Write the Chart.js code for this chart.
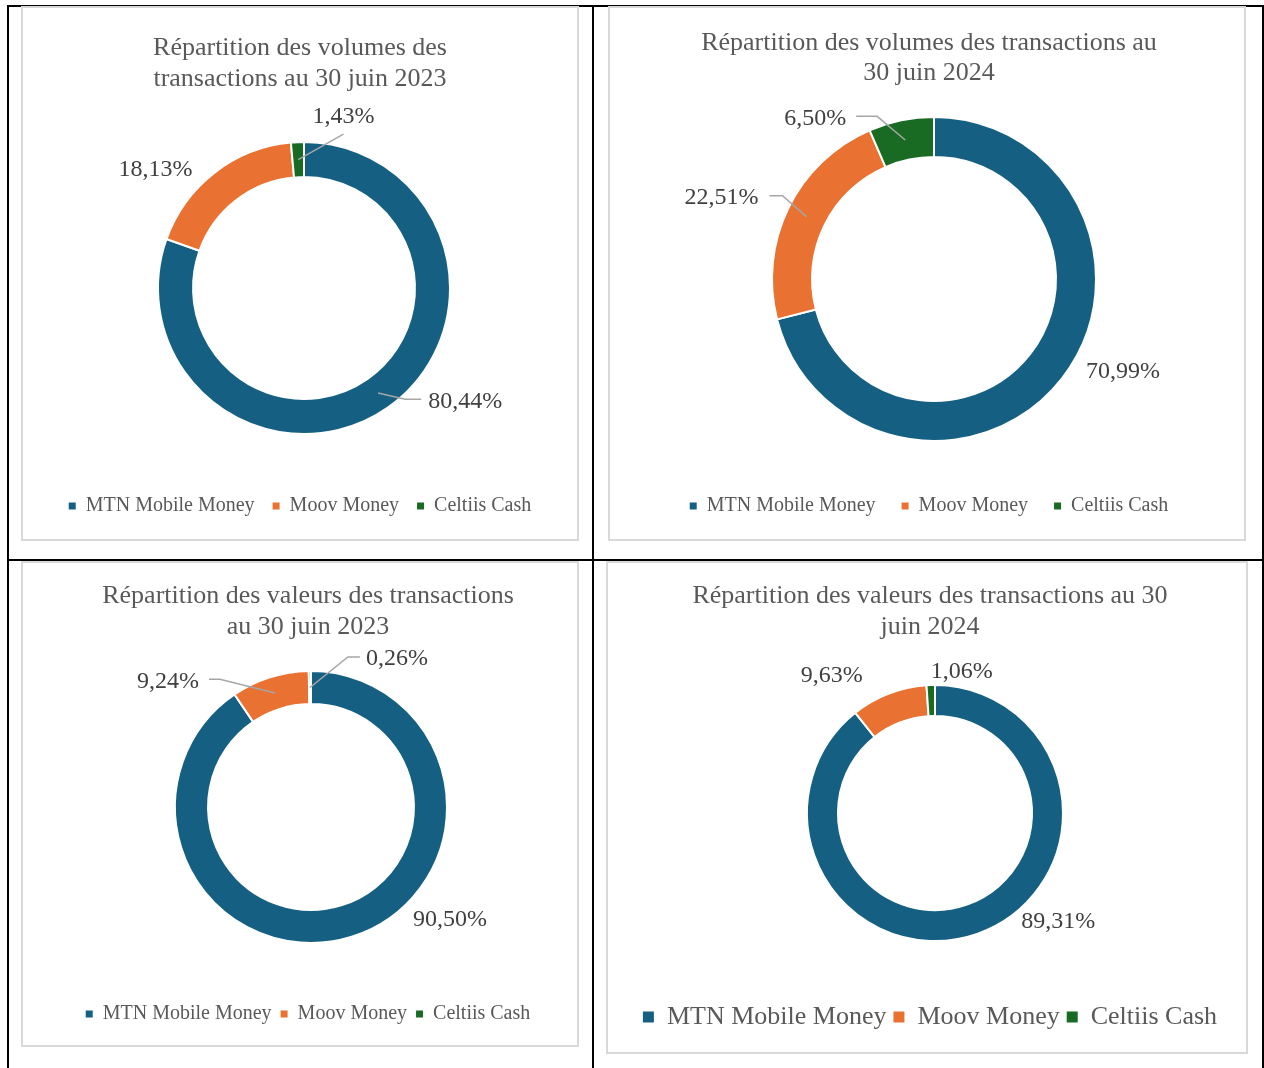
<!DOCTYPE html>
<html><head><meta charset="utf-8">
<script src="https://cdn.jsdelivr.net/npm/chart.js@4.4.1/dist/chart.umd.min.js"></script>
<style>
html,body{margin:0;padding:0;background:#fff;}
body{width:1264px;height:1068px;position:relative;overflow:hidden;}
.line{position:absolute;background:#000;}
.box{position:absolute;box-sizing:border-box;border:2px solid #d9d9d9;background:#fff;}
canvas{position:absolute;}
</style></head><body>
<div class="line" style="left:7px;top:5px;width:1257px;height:2px"></div>
<div class="line" style="left:7px;top:559px;width:1257px;height:2px"></div>
<div class="line" style="left:7px;top:5px;width:2px;height:1063px"></div>
<div class="line" style="left:592px;top:5px;width:2px;height:1063px"></div>
<div class="line" style="left:1262px;top:5px;width:2px;height:1063px"></div>

<div class="box" style="left:21px;top:6px;width:558px;height:535px"></div>
<div class="box" style="left:608px;top:6px;width:638px;height:535px"></div>
<div class="box" style="left:21px;top:561px;width:558px;height:486px"></div>
<div class="box" style="left:606px;top:561px;width:642px;height:493px"></div>

<canvas id="c1" width="556" height="532" style="left:22px;top:8px"></canvas>
<canvas id="c2" width="636" height="532" style="left:611px;top:8px"></canvas>
<canvas id="c3" width="556" height="486" style="left:30px;top:560px"></canvas>
<canvas id="c4" width="640" height="493" style="left:610px;top:560px"></canvas>

<script>
// ---- data ----
const categories = ['MTN Mobile Money', 'Moov Money', 'Celtiis Cash'];
const volumes2023 = [80.44, 18.13, 1.43];
const volumes2024 = [70.99, 22.51, 6.50];
const values2023 = [90.50, 9.24, 0.26];
const values2024 = [89.31, 9.63, 1.06];
const title1 = ['Répartition des volumes des', 'transactions au 30 juin 2023'];
const title2 = ['Répartition des volumes des transactions au', '30 juin 2024'];
const title3 = ['Répartition des valeurs des transactions', 'au 30 juin 2023'];
const title4 = ['Répartition des valeurs des transactions au 30', 'juin 2024'];
const colors = ['#156082', '#E97132', '#196B24'];

const FONT = "'Palatino Linotype', 'Book Antiqua', Palatino, 'Liberation Serif', serif";
Chart.defaults.font.family = FONT;

function fmt(v) { return v.toFixed(2).replace('.', ',') + '%'; }

const pieLabels = {
  id: 'pieLabels',
  afterDatasetsDraw(chart, args, opts) {
    const ctx = chart.ctx;
    const meta = chart.getDatasetMeta(0);
    const data = chart.data.datasets[0].data;
    ctx.save();
    ctx.font = opts.size + 'px ' + FONT;
    ctx.textAlign = 'center';
    ctx.textBaseline = 'middle';
    meta.data.forEach((arc, i) => {
      const p = arc.getProps(['x', 'y', 'startAngle', 'endAngle', 'innerRadius', 'outerRadius'], true);
      const mid = (p.startAngle + p.endAngle) / 2;
      const ox = p.x + Math.cos(mid) * p.outerRadius;
      const oy = p.y + Math.sin(mid) * p.outerRadius;
      const c = opts.items[i];
      const tx = ox + c.dx, ty = oy + c.dy + opts.shift;
      const text = fmt(data[i]);
      const w = ctx.measureText(text).width;
      if (c.leader) {
        const rm = (p.innerRadius + p.outerRadius) / 2;
        const sx = p.x + Math.cos(mid) * rm, sy = p.y + Math.sin(mid) * rm;
        const ly = ty - opts.shift;
        ctx.beginPath();
        ctx.strokeStyle = '#a6a6a6';
        ctx.lineWidth = 1.5;
        ctx.moveTo(sx, sy);
        if (c.leader === 'left') {
          const ex = tx - w / 2 - c.gap;
          ctx.lineTo(ex - c.elbow, ly); ctx.lineTo(ex, ly);
        } else if (c.leader === 'right') {
          const ex = tx + w / 2 + c.gap;
          ctx.lineTo(ex + c.elbow, ly); ctx.lineTo(ex, ly);
        } else {
          ctx.lineTo(tx, ly + c.below);
        }
        ctx.stroke();
      }
      ctx.fillStyle = '#404040';
      ctx.fillText(text, tx, ty);
    });
    ctx.restore();
  }
};

function legendLabels(chart) {
  return Chart.overrides.doughnut.plugins.legend.labels.generateLabels(chart)
    .map(l => Object.assign(l, { lineWidth: 0, strokeStyle: 'rgba(0,0,0,0)' }));
}

function makeChart(id, values, title, cfg) {
  return new Chart(document.getElementById(id), {
    type: 'doughnut',
    data: {
      labels: categories,
      datasets: [{
        data: values,
        backgroundColor: colors,
        borderColor: '#ffffff',
        borderWidth: 2,
        hoverOffset: 0,
        radius: cfg.radius,
        cutout: cfg.cutout
      }]
    },
    options: {
      responsive: false,
      animation: false,
      events: [],
      layout: { padding: { bottom: cfg.lb } },
      plugins: {
        title: {
          display: true, text: title, color: '#595959',
          font: { family: FONT, size: cfg.titleSize, weight: 'normal', lineHeight: cfg.L + 'px' },
          padding: { top: cfg.pt, bottom: cfg.pb }
        },
        subtitle: {
          display: true, text: '', position: 'left', fullSize: false,
          font: { size: 10, lineHeight: cfg.spacer + 'px' }, padding: 0
        },
        legend: {
          position: 'bottom',
          labels: {
            boxWidth: cfg.box, boxHeight: cfg.box, padding: cfg.p, color: '#595959',
            font: { family: FONT, size: cfg.legendSize },
            generateLabels: legendLabels
          },
          title: { display: cfg.tH > 0, text: '', padding: 0, font: { size: 10, lineHeight: (cfg.tH || 1) + 'px' } }
        },
        tooltip: { enabled: false },
        pieLabels: { size: 24, shift: 2, items: cfg.items }
      }
    },
    plugins: [pieLabels]
  });
}

makeChart('c1', volumes2023, title1, {
  radius: 146, cutout: '76%', titleSize: 26, L: 31, pt: 24.5, pb: 13.5, lb: 14, p: 18, tH: 10,
  spacer: 8, box: 7, legendSize: 20,
  items: [
    { dx: 77, dy: -8, leader: 'left', gap: 7, elbow: 16 },
    { dx: -59, dy: -5 },
    { dx: 46, dy: -27, leader: 'below', below: 19 }
  ]
});
makeChart('c2', volumes2024, title2, {
  radius: 162, cutout: '75.3%', titleSize: 26, L: 30, pt: 20.5, pb: 5.5, lb: 14, p: 26, tH: 6,
  spacer: 10, box: 7, legendSize: 20,
  items: [
    { dx: 61, dy: -9 },
    { dx: -67, dy: -12, leader: 'right', gap: 11, elbow: 13 },
    { dx: -86, dy: -4, leader: 'right', gap: 10, elbow: 21 }
  ]
});
makeChart('c3', values2023, title3, {
  radius: 136, cutout: '75.7%', titleSize: 26, L: 31, pt: 20.5, pb: 0, lb: 12, p: 9, tH: 23.5,
  spacer: 6, box: 7, legendSize: 20,
  items: [
    { dx: 99, dy: -19 },
    { dx: -102, dy: 2, leader: 'right', gap: 10, elbow: 11 },
    { dx: 87, dy: -14, leader: 'left', gap: 6, elbow: 12 }
  ]
});
makeChart('c4', values2024, title4, {
  radius: 128, cutout: '75.8%', titleSize: 26, L: 31, pt: 20.5, pb: 0, lb: 13, p: 7, tH: 13.5,
  spacer: 10, box: 11, legendSize: 26,
  items: [
    { dx: 81, dy: -14 },
    { dx: -57, dy: -20 },
    { dx: 31, dy: -15 }
  ]
});
</script>
</body></html>
